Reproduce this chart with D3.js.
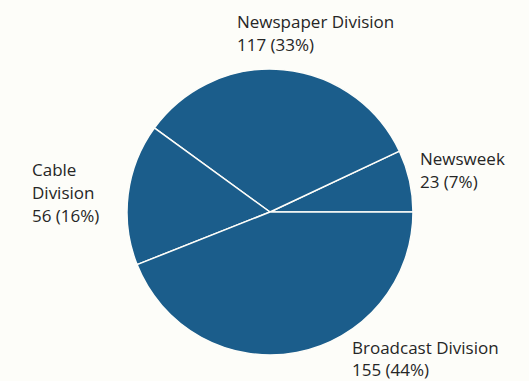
<!DOCTYPE html>
<html><head><meta charset="utf-8">
<script src="https://cdn.jsdelivr.net/npm/d3@7"></script>
<style>html,body{margin:0;padding:0;background:#fdfdf9;}svg{display:block;}</style>
</head><body>
<script>
const categories = ["Newsweek", "Newspaper Division", "Cable Division", "Broadcast Division"];
const values = [23, 117, 56, 155];
const percents = [7, 33, 16, 44];
const labelLines = [["Newsweek"], ["Newspaper Division"], ["Cable", "Division"], ["Broadcast Division"]];

const W = 529, H = 381;
const cx = 270, cy = 212, r = 143;
const svg = d3.select("body").append("svg").attr("width", W).attr("height", H);
svg.append("rect").attr("width", W).attr("height", H).attr("fill", "#fdfdf9");

const data = categories.map((c, i) => ({cat: c, value: values[i], pct: percents[i], lines: labelLines[i]}));

// start at east (pi/2), go counterclockwise
const pie = d3.pie().sort(null).value(d => d.pct)
  .startAngle(Math.PI / 2).endAngle(Math.PI / 2 - 2 * Math.PI);
const arc = d3.arc().innerRadius(0).outerRadius(r);

const g = svg.append("g").attr("transform", `translate(${cx},${cy})`);
g.selectAll("path").data(pie(data)).join("path")
  .attr("d", arc).attr("fill", "#1b5d8b")
  .attr("stroke", "#fdfdf9").attr("stroke-width", 1.5).attr("stroke-linejoin", "round");

const labelPos = {
  "Newsweek": [420, 165, "start"],
  "Newspaper Division": [237, 28, "start"],
  "Cable Division": [32, 176, "start"],
  "Broadcast Division": [352, 354, "start"]
};
const lh = 23;
data.forEach(d => {
  const [x, y, anchor] = labelPos[d.cat];
  const t = svg.append("text").attr("x", x).attr("y", y).attr("text-anchor", anchor)
    .attr("font-family", "'Open Sans', Lato, sans-serif").attr("font-size", 17).attr("fill", "#262626");
  const lines = d.lines.concat([`${d.value} (${d.pct}%)`]);
  lines.forEach((l, i) => t.append("tspan").attr("x", x).attr("y", y + i * (d.cat === "Broadcast Division" ? 22 : lh)).text(l));
});
</script>
</body></html>
